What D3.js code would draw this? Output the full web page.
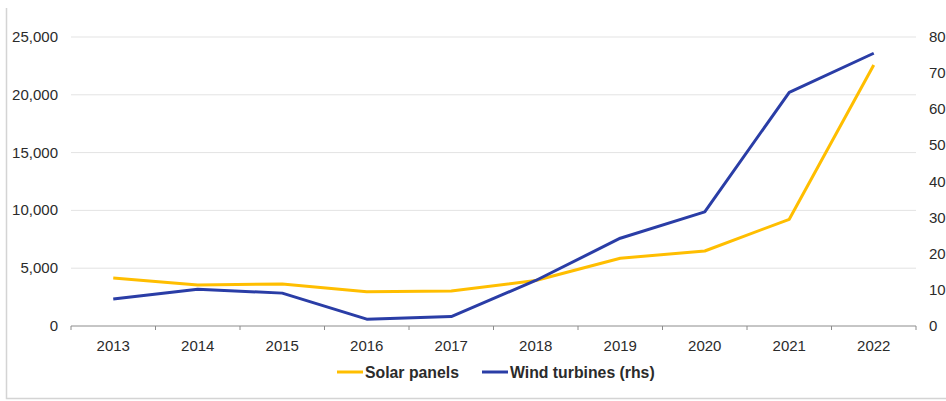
<!DOCTYPE html>
<html>
<head>
<meta charset="utf-8">
<script src="https://cdn.jsdelivr.net/npm/d3@7"></script>
<style>
  body { margin: 0; background: #fff; }
  text { font-family: "Liberation Sans", Arial, sans-serif; fill: #2b2b2b; }
</style>
</head>
<body>
<div id="chart"></div>
<script>
const years = ["2013", "2014", "2015", "2016", "2017", "2018", "2019", "2020", "2021", "2022"];
const solarPanels = [4150, 3550, 3630, 2970, 3030, 3930, 5860, 6490, 9230, 22580];
const windTurbines = [7.5, 10.2, 9.1, 1.9, 2.6, 12.6, 24.3, 31.6, 64.7, 75.5];
const leftTicks = [0, 5000, 10000, 15000, 20000, 25000];
const rightTicks = [0, 10, 20, 30, 40, 50, 60, 70, 80];

const width = 946, height = 401;
const margin = { top: 37, right: 30, bottom: 75, left: 71 };

const svg = d3.select("#chart")
  .append("svg")
  .attr("width", width)
  .attr("height", height);

// frame (left + bottom border)
svg.append("path")
  .attr("d", "M6.5,8V398.5H946")
  .attr("fill", "none")
  .attr("stroke", "#d4d4d4")
  .attr("stroke-width", 1.5);

const x = d3.scaleBand()
  .domain(years)
  .range([margin.left, width - margin.right]);

const yL = d3.scaleLinear()
  .domain([0, 25000])
  .range([height - margin.bottom, margin.top]);

const yR = d3.scaleLinear()
  .domain([0, 80])
  .range([height - margin.bottom, margin.top]);

// gridlines
svg.append("g")
  .selectAll("line")
  .data(leftTicks.slice(1))
  .join("line")
  .attr("x1", margin.left)
  .attr("x2", width - margin.right)
  .attr("y1", d => yL(d))
  .attr("y2", d => yL(d))
  .attr("stroke", "#e3e3e3")
  .attr("stroke-width", 1);

// x axis
const xAxis = svg.append("g")
  .attr("transform", `translate(0,${height - margin.bottom})`);
xAxis.append("line")
  .attr("x1", margin.left).attr("x2", width - margin.right)
  .attr("stroke", "#8c8c8c");
const edges = d3.range(years.length + 1).map(i => margin.left + i * x.step());
xAxis.selectAll(".tk")
  .data(edges)
  .join("line")
  .attr("x1", d => d).attr("x2", d => d)
  .attr("y1", 0).attr("y2", 4)
  .attr("stroke", "#8c8c8c");
xAxis.selectAll("text")
  .data(years)
  .join("text")
  .attr("x", d => x(d) + x.bandwidth() / 2)
  .attr("y", 25)
  .attr("text-anchor", "middle")
  .style("font-size", "15px")
  .text(d => d);

// left axis labels
svg.append("g")
  .selectAll("text")
  .data(leftTicks)
  .join("text")
  .attr("x", 58)
  .attr("y", d => yL(d) + 5)
  .attr("text-anchor", "end")
  .style("font-size", "15px")
  .text(d => d3.format(",")(d));

// right axis labels
svg.append("g")
  .selectAll("text")
  .data(rightTicks)
  .join("text")
  .attr("x", 929)
  .attr("y", d => yR(d) + 5)
  .attr("text-anchor", "start")
  .style("font-size", "15px")
  .text(d => d);

const cx = d => x(d) + x.bandwidth() / 2;

svg.append("path")
  .datum(solarPanels)
  .attr("fill", "none")
  .attr("stroke", "#FFBE00")
  .attr("stroke-width", 3)
  .attr("stroke-linejoin", "round")
  .attr("d", d3.line().x((d, i) => cx(years[i])).y(d => yL(d)));

svg.append("path")
  .datum(windTurbines)
  .attr("fill", "none")
  .attr("stroke", "#2A3DA6")
  .attr("stroke-width", 3)
  .attr("stroke-linejoin", "round")
  .attr("d", d3.line().x((d, i) => cx(years[i])).y(d => yR(d)));

// legend
const legend = [
  { name: "Solar panels", color: "#FFBE00", x: 337 },
  { name: "Wind turbines (rhs)", color: "#2A3DA6", x: 482 }
];
const lg = svg.append("g").selectAll("g")
  .data(legend)
  .join("g")
  .attr("transform", d => `translate(${d.x},372)`);
lg.append("line")
  .attr("x1", 0).attr("x2", 26)
  .attr("stroke", d => d.color)
  .attr("stroke-width", 3);
lg.append("text")
  .attr("x", 28)
  .attr("y", 5.5)
  .style("font-size", "15.8px")
  .style("font-weight", "bold")
  .text(d => d.name);
</script>
</body>
</html>
